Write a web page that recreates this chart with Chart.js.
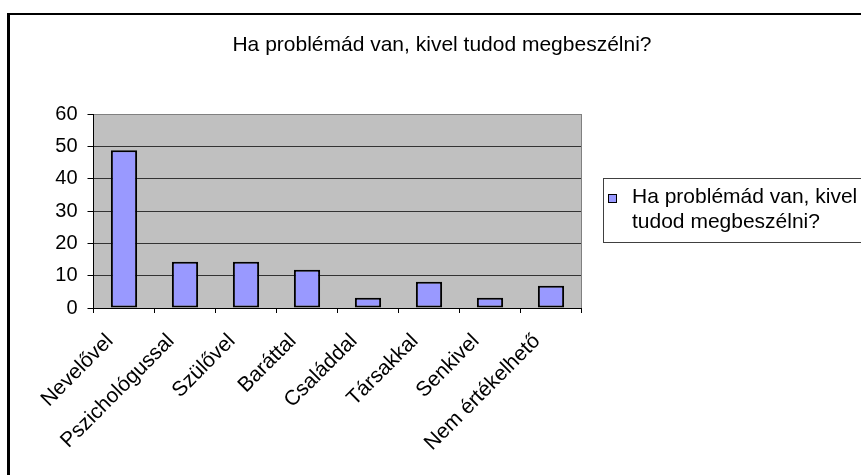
<!DOCTYPE html>
<html>
<head>
<meta charset="utf-8">
<script src="https://cdn.jsdelivr.net/npm/chart.js@4"></script>
<style>
  body{margin:0;background:#fff;}
  #wrap{position:relative;width:861px;height:475px;overflow:hidden;background:#fff;}
  #chart{position:absolute;left:0;top:0;}
  #frame{position:absolute;left:7px;top:13px;width:2000px;height:2000px;border-left:3px solid #000;border-top:2px solid #000;}
  .txt{font-family:"Liberation Sans",Arial,sans-serif;font-size:21px;color:#000;white-space:nowrap;}
  #title{position:absolute;left:0;top:32px;width:884px;text-align:center;line-height:24px;}
  #legend{position:absolute;left:603px;top:178px;width:300px;height:65px;box-sizing:border-box;border:1px solid #404040;}
  #swatch{position:absolute;left:608px;top:194px;width:9px;height:9px;box-sizing:border-box;border:1px solid #000;background:#9999ff;}
  #legtext{position:absolute;left:632px;top:183px;line-height:25.4px;}
</style>
</head>
<body>
<div id="wrap">
  <canvas id="chart" width="861" height="475"></canvas>
  <div id="frame"></div>
  <div id="title" class="txt"></div>
  <div id="legend"></div>
  <div id="swatch"></div>
  <div id="legtext" class="txt"></div>
</div>
<script>
const chartTitle = "Ha problémád van, kivel tudod megbeszélni?";
const seriesName = "Ha problémád van, kivel tudod megbeszélni?";
const legendLines = ["Ha problémád van, kivel", "tudod megbeszélni?"];
const categories = ["Nevelővel","Pszichológussal","Szülővel","Baráttal","Családdal","Társakkal","Senkivel","Nem értékelhető"];
const values = [48.8, 14.3, 14.3, 11.8, 3.2, 8.1, 3.2, 6.9];
const yMin = 0, yMax = 60, yStep = 10;

document.getElementById("title").innerText = chartTitle;
document.getElementById("legtext").innerHTML = legendLines.join("<br>");

const yFont = {family:'"Liberation Sans", Arial, sans-serif', size:20};
const xFont = {family:'"Liberation Sans", Arial, sans-serif', size:21};

const plotBg = {
  id:"plotBg",
  beforeDraw(c){
    const {ctx, chartArea:a} = c;
    ctx.save();
    ctx.fillStyle = "#c0c0c0";
    ctx.fillRect(a.left, a.top, a.right - a.left, a.bottom - a.top);
    ctx.restore();
  },
  afterDraw(c){
    const {ctx, chartArea:a} = c;
    ctx.save();
    ctx.strokeStyle = "#808080";
    ctx.lineWidth = 1;
    ctx.beginPath();
    ctx.moveTo(Math.round(a.right) - 0.5, a.top);
    ctx.lineTo(Math.round(a.right) - 0.5, a.bottom);
    ctx.stroke();
    ctx.restore();
  }
};

new Chart(document.getElementById("chart"), {
  type:"bar",
  data:{
    labels:categories,
    datasets:[{
      label:seriesName,
      data:values,
      backgroundColor:"#9999ff",
      borderColor:"#000",
      borderWidth:2,
      borderSkipped:false,
      barPercentage:0.43,
      categoryPercentage:1
    }]
  },
  options:{
    responsive:false,
    animation:false,
    layout:{padding:{left:0, right:279.5, top:114, bottom:0}},
    plugins:{legend:{display:false}, tooltip:{enabled:false}, title:{display:false}},
    scales:{
      x:{
        grid:{offset:true, drawOnChartArea:false, tickLength:5, tickColor:"#000", color:"#000"},
        border:{color:"#000", width:1},
        ticks:{color:"#000", font:xFont, minRotation:45, maxRotation:45, padding:16, labelOffset:-14, autoSkip:false},
        afterFit(s){ s.height = 167; }
      },
      y:{
        min:yMin, max:yMax,
        ticks:{stepSize:yStep, color:"#000", font:yFont, padding:10},
        grid:{color:c => (c.tick && c.tick.value === yMax) ? "#808080" : "#333", tickLength:6, tickColor:"#000"},
        border:{color:"#000", width:1},
        afterFit(s){ s.width = 93.5; }
      }
    }
  },
  plugins:[plotBg]
});
</script>
</body>
</html>
